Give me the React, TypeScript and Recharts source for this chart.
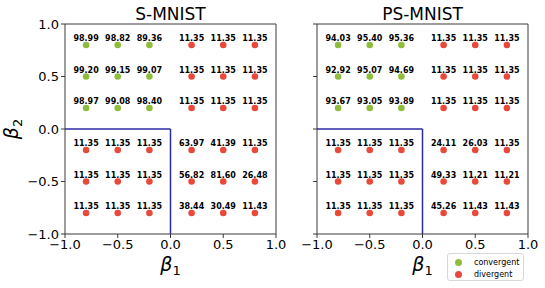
import {
  Label,
  ReferenceLine,
  Scatter,
  ScatterChart,
  XAxis,
  YAxis,
} from "recharts";

const beta1Values = [-0.8, -0.5, -0.2, 0.2, 0.5, 0.8];
const beta2Values = [0.8, 0.5, 0.2, -0.2, -0.5, -0.8];
const axisTicks = [-1, -0.5, 0, 0.5, 1];

// accuracy per row (beta2), columns follow beta1Values
const sMnistAcc = [
  [98.99, 98.82, 89.36, 11.35, 11.35, 11.35],
  [99.2, 99.15, 99.07, 11.35, 11.35, 11.35],
  [98.97, 99.08, 98.4, 11.35, 11.35, 11.35],
  [11.35, 11.35, 11.35, 63.97, 41.39, 11.35],
  [11.35, 11.35, 11.35, 56.82, 81.6, 26.48],
  [11.35, 11.35, 11.35, 38.44, 30.49, 11.43],
];

const psMnistAcc = [
  [94.03, 95.4, 95.36, 11.35, 11.35, 11.35],
  [92.92, 95.07, 94.69, 11.35, 11.35, 11.35],
  [93.67, 93.05, 93.89, 11.35, 11.35, 11.35],
  [11.35, 11.35, 11.35, 24.11, 26.03, 11.35],
  [11.35, 11.35, 11.35, 49.33, 11.21, 11.21],
  [11.35, 11.35, 11.35, 45.26, 11.43, 11.43],
];

const GREEN = "#8dbd3a";
const RED = "#e8493a";
const BLUE = "#2b2ba3";
const SPINE = "#3a3a3a";
const FONT = "DejaVu Sans";

type Pt = { b1: number; b2: number; acc: number };

function toPoints(acc: number[][], convergent: boolean): Pt[] {
  const out: Pt[] = [];
  beta2Values.forEach((b2, i) => {
    beta1Values.forEach((b1, j) => {
      const isConv = b1 < 0 && b2 > 0;
      if (isConv === convergent) out.push({ b1, b2, acc: acc[i][j] });
    });
  });
  return out;
}

const fmtTick = (v: number) => v.toFixed(1).replace("-", "\u2212");

function Dot(props: any) {
  const { cx, cy, payload, fill } = props;
  return (
    <g>
      <circle cx={cx} cy={cy} r={3.3} fill={fill} />
      <text
        x={cx}
        y={cy - 3.6}
        textAnchor="middle"
        fontFamily={FONT}
        fontWeight="bold"
        fontSize={8}
        fill="#000"
      >
        {payload.acc.toFixed(2)}
      </text>
    </g>
  );
}

function BetaX(props: any) {
  const { x, y, width } = props.viewBox;
  return (
    <text
      x={x + width / 2}
      y={y + 37}
      textAnchor="middle"
      fontFamily={FONT}
      fontStyle="italic"
      fontSize={19}
      fill="#000"
    >
      β
      <tspan fontSize={13} fontStyle="normal" dy={4}>
        1
      </tspan>
    </text>
  );
}

function BetaY(props: any) {
  const { y, height } = props.viewBox;
  const cx = 18;
  const cy = y + height / 2;
  return (
    <text
      x={cx}
      y={cy}
      transform={`rotate(-90 ${cx} ${cy})`}
      textAnchor="middle"
      fontFamily={FONT}
      fontStyle="italic"
      fontSize={19}
      fill="#000"
    >
      β
      <tspan fontSize={13} fontStyle="normal" dy={4}>
        2
      </tspan>
    </text>
  );
}

function Panel({
  acc,
  showYLabels,
  yAxisWidth,
  rightMargin,
  width,
}: {
  acc: number[][];
  showYLabels: boolean;
  yAxisWidth: number;
  rightMargin: number;
  width: number;
}) {
  const tickStyle = { fill: "#000", fontSize: 13, fontFamily: FONT };
  return (
    <ScatterChart
      width={width}
      height={288}
      margin={{ top: 24, right: rightMargin, bottom: 0, left: 0 }}
    >
      <XAxis
        type="number"
        dataKey="b1"
        domain={[-1, 1]}
        ticks={axisTicks}
        tickFormatter={fmtTick}
        allowDataOverflow
        height={54}
        stroke={SPINE}
        tickSize={4}
        tick={tickStyle}
      >
        <Label content={BetaX} />
      </XAxis>
      <YAxis
        type="number"
        dataKey="b2"
        domain={[-1, 1]}
        ticks={axisTicks}
        tickFormatter={showYLabels ? fmtTick : () => ""}
        allowDataOverflow
        width={yAxisWidth}
        stroke={SPINE}
        tickSize={4}
        tick={tickStyle}
      >
        {showYLabels ? <Label content={BetaY} /> : null}
      </YAxis>
      <ReferenceLine y={1} stroke={SPINE} strokeWidth={1} />
      <ReferenceLine x={1} stroke={SPINE} strokeWidth={1} />
      <ReferenceLine
        segment={[
          { x: -1, y: 0 },
          { x: 0, y: 0 },
        ]}
        stroke={BLUE}
        strokeWidth={1.5}
      />
      <ReferenceLine
        segment={[
          { x: 0, y: 0 },
          { x: 0, y: -1 },
        ]}
        stroke={BLUE}
        strokeWidth={1.5}
      />
      <Scatter
        name="convergent"
        data={toPoints(acc, true)}
        fill={GREEN}
        shape={Dot}
        isAnimationActive={false}
      />
      <Scatter
        name="divergent"
        data={toPoints(acc, false)}
        fill={RED}
        shape={Dot}
        isAnimationActive={false}
      />
    </ScatterChart>
  );
}

const titleStyle = (left: number): React.CSSProperties => ({
  position: "absolute",
  left,
  top: 4,
  width: 211,
  textAlign: "center",
  fontFamily: FONT,
  fontSize: 17,
  lineHeight: "20px",
  color: "#000",
});

export default function App() {
  return (
    <div
      style={{
        position: "absolute",
        left: 0,
        top: 0,
        width: 545,
        height: 288,
        background: "#fff",
      }}
    >
      <div style={{ position: "absolute", left: 0, top: 0 }}>
        <Panel acc={sMnistAcc} showYLabels yAxisWidth={65} rightMargin={19} width={295} />
      </div>
      <div style={{ position: "absolute", left: 280, top: 0 }}>
        <Panel acc={psMnistAcc} showYLabels={false} yAxisWidth={37} rightMargin={17} width={265} />
      </div>
      <div style={titleStyle(65)}>S-MNIST</div>
      <div style={titleStyle(317)}>PS-MNIST</div>
      <div
        style={{
          position: "absolute",
          left: 447,
          top: 253,
          width: 77,
          height: 28,
          border: "1px solid #d8d8d8",
          borderRadius: 3,
          fontFamily: FONT,
          fontSize: 8,
          color: "#000",
          boxSizing: "border-box",
        }}
      >
        {[
          { name: "convergent", color: GREEN },
          { name: "divergent", color: RED },
        ].map((item, i) => (
          <div
            key={item.name}
            style={{
              position: "absolute",
              left: 7,
              top: 3 + i * 12,
              height: 10,
              display: "flex",
              alignItems: "center",
            }}
          >
            <span
              style={{
                width: 7,
                height: 7,
                borderRadius: "50%",
                background: item.color,
                display: "inline-block",
                marginRight: 12,
              }}
            />
            <span>{item.name}</span>
          </div>
        ))}
      </div>
    </div>
  );
}
